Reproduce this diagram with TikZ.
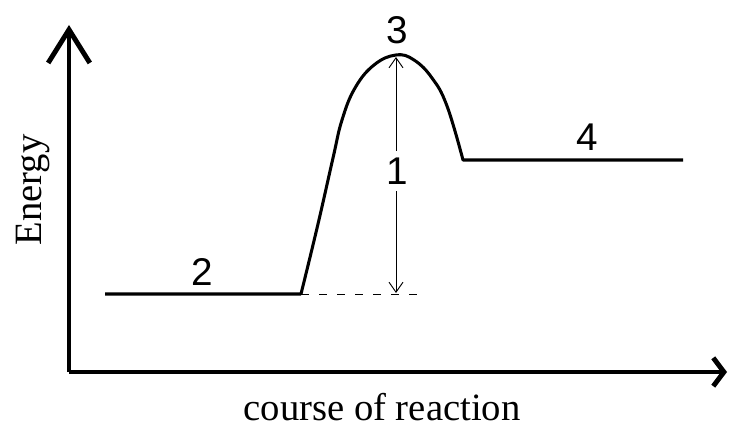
\documentclass[tikz,border=0pt]{standalone}
\usepackage{fontspec}
\usepackage{tikz}
\usetikzlibrary{arrows.meta}
\setmainfont{Liberation Serif}
\newfontfamily\labelfont{Liberation Sans}

\begin{document}
\begin{tikzpicture}[x=0.03cm,y=-0.03cm,
  axis/.style={line width=4.2pt},
  curve/.style={line width=2.6pt,line join=round},
  num/.style={font=\labelfont\fontsize{33}{36}\selectfont,inner sep=1pt},
  word/.style={font=\fontsize{33}{36}\selectfont}]
\useasboundingbox (0,0) rectangle (729,427);
\coordinate (o) at (69,372);
\coordinate (ytop) at (69,25);
\coordinate (xend) at (727,372);
\draw[axis,-{Straight Barb[length=1cm,width=1.25cm]}] (o) -- (ytop);
\draw[axis,-{Straight Barb[length=0.32cm,width=0.85cm]}] (o) -- (xend);
\node[word,rotate=90] (energy) at (33,190) {Energy};
\node[word] (course) at (382,407) {course of reaction};
\coordinate (r0) at (105,294);
\coordinate (r1) at (301,294);
\coordinate (ts) at (396,55);
\coordinate (p0) at (463,160);
\coordinate (p1) at (683,160);
\coordinate (base) at (425,294);
\draw[curve] (r0) -- (r1)
  plot[smooth,tension=0.7] coordinates {(301,294) (318,224) (333,158) (342,120) (355,88) (374,65) (396,55) (414,60) (432,78) (447,106) (463,160)}
  -- (p1);
\draw[line width=0.8pt,dash pattern=on 0.24cm off 0.3cm] (r1) -- (base);
\node[num] (l2) at (202,272) {2};
\node[num] (l3) at (397,30) {3};
\node[num] (l4) at (587,137) {4};
\draw[line width=0.8pt,{Straight Barb[length=0.3cm,width=0.42cm]}-{Straight Barb[length=0.3cm,width=0.42cm]}] (396,57) -- (396,293);
\node[num,fill=white,inner ysep=6pt] (l1) at (397,171) {1};
\end{tikzpicture}
\end{document}
